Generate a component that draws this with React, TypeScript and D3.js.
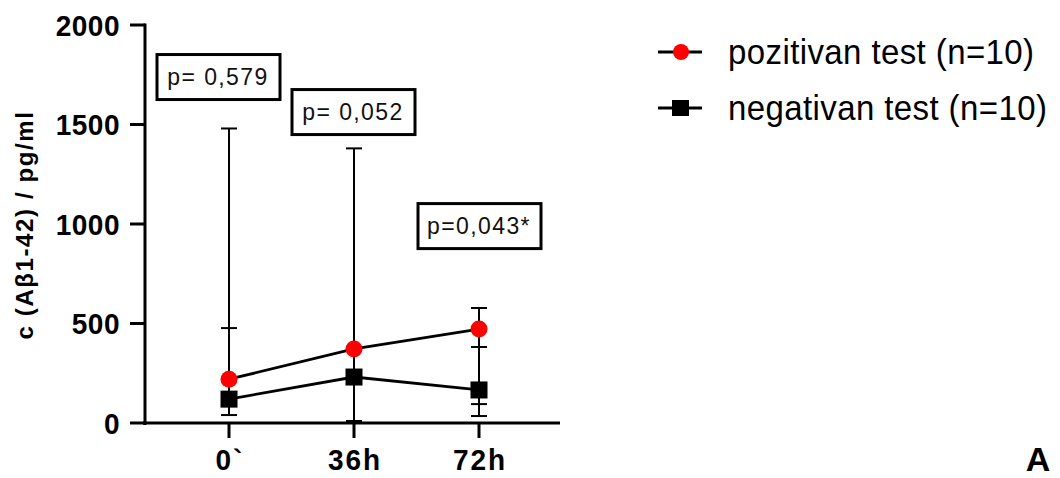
import React from "react";
import * as d3 from "d3";

// time points
const categories = ["0`", "36h", "72h"];
const yTicks = [0, 500, 1000, 1500, 2000];

// pozitivan test (red circles)
const posValues = [220, 372, 472];
const posLower = [40, 230, 95];
const posUpper = [1480, 1380, 578];

// negativan test (black squares)
const negValues = [120, 231, 166];
const negLower = [100, 10, 35];
const negUpper = [477, 260, 382];

// p-value annotations, anchored at a y value above each time point
const pLabels = ["p= 0,579", "p= 0,052", "p=0,043*"];
const pBoxValues = [1741, 1565, 992];

const FONT = "'Liberation Sans', Arial, sans-serif";

const App = () => {
  const width = 1060;
  const height = 478;

  const y = d3.scaleLinear().domain([0, 2000]).range([423, 25]);
  const x = d3.scalePoint<string>().domain(categories).range([229, 479]);
  const line = d3
    .line<number>()
    .x((d, i) => x(categories[i]) as number)
    .y((d) => y(d));

  const errorBars = (lo: number[], hi: number[], key: string) =>
    categories.map((c, i) => {
      const cx = x(c) as number;
      return (
        <g key={key + i} stroke="#000" strokeWidth={2}>
          <line x1={cx} x2={cx} y1={y(lo[i])} y2={y(hi[i])} />
          <line x1={cx - 8} x2={cx + 8} y1={y(lo[i])} y2={y(lo[i])} />
          <line x1={cx - 8} x2={cx + 8} y1={y(hi[i])} y2={y(hi[i])} />
        </g>
      );
    });

  // glyphs in the reference are a bit taller than wide
  const tall = (tx: number, ty: number, s = 1.08) =>
    `translate(${tx},${ty}) scale(1,${s})`;

  return (
    <svg
      width={width}
      height={height}
      style={{ position: "absolute", left: 0, top: 0, background: "#fff" }}
      fontFamily={FONT}
    >
      {/* y axis */}
      <line x1={145} x2={145} y1={y(2000) - 1.5} y2={y(0) + 2} stroke="#000" strokeWidth={3} />
      {yTicks.map((t) => (
        <g key={t}>
          <line x1={130} x2={145} y1={y(t)} y2={y(t)} stroke="#000" strokeWidth={3} />
          <text
            transform={tall(120, y(t) + 10.5)}
            textAnchor="end"
            fontSize={28}
            fontWeight="bold"
            letterSpacing={0.5}
          >
            {t}
          </text>
        </g>
      ))}
      <text
        transform={`translate(33, ${(110 + 340) / 2}) rotate(-90)`}
        textAnchor="middle"
        fontSize={24}
        fontWeight="bold"
        letterSpacing={1.6}
      >
        c (Aβ1-42) / pg/ml
      </text>

      {/* x axis */}
      <line x1={143} x2={560} y1={y(0)} y2={y(0)} stroke="#000" strokeWidth={3} />
      {categories.map((c) => (
        <g key={c}>
          <line x1={x(c)} x2={x(c)} y1={y(0)} y2={y(0) + 15} stroke="#000" strokeWidth={3} />
          <text
            transform={tall((x(c) as number) + 1, 470)}
            textAnchor="middle"
            fontSize={28}
            fontWeight="bold"
            letterSpacing={2}
          >
            {c}
          </text>
        </g>
      ))}

      {/* error bars */}
      {errorBars(posLower, posUpper, "p")}
      {errorBars(negLower, negUpper, "n")}

      {/* lines */}
      <path d={line(posValues) || ""} fill="none" stroke="#000" strokeWidth={2.8} />
      <path d={line(negValues) || ""} fill="none" stroke="#000" strokeWidth={2.8} />

      {/* markers */}
      {negValues.map((v, i) => (
        <rect
          key={"ns" + i}
          x={(x(categories[i]) as number) - 8.5}
          y={y(v) - 8.5}
          width={17}
          height={17}
          fill="#000"
        />
      ))}
      {posValues.map((v, i) => (
        <circle key={"pc" + i} cx={x(categories[i])} cy={y(v)} r={8.5} fill="#ff0000" />
      ))}

      {/* p-value boxes */}
      {pLabels.map((p, i) => {
        const cx = x(categories[i]) as number;
        const cy = y(pBoxValues[i]);
        const shift = i === 0 ? -10 : i === 2 ? 1 : 0;
        return (
          <g key={p}>
            <rect
              x={cx - 62 + shift}
              y={cy - 22}
              width={123}
              height={45}
              fill="#fff"
              stroke="#000"
              strokeWidth={3}
            />
            <text
              transform={tall(cx - 1 + shift, cy + 8)}
              textAnchor="middle"
              fontSize={23}
              letterSpacing={1.4}
              fill="#111"
            >
              {p}
            </text>
          </g>
        );
      })}

      {/* legend */}
      <g>
        <line x1={658} x2={702} y1={52} y2={52} stroke="#000" strokeWidth={2.8} />
        <circle cx={681} cy={52} r={8} fill="#ff0000" />
        <text transform={tall(728, 64, 1.06)} fontSize={33} letterSpacing={0.4}>
          pozitivan test (n=10)
        </text>
        <line x1={658} x2={702} y1={108} y2={108} stroke="#000" strokeWidth={2.8} />
        <rect x={672} y={100} width={17} height={16} fill="#000" />
        <text transform={tall(728, 120, 1.06)} fontSize={33} letterSpacing={0.4}>
          negativan test (n=10)
        </text>
      </g>

      <text x={1038} y={471} textAnchor="middle" fontSize={34} fontWeight="bold">
        A
      </text>
    </svg>
  );
};

export default App;
